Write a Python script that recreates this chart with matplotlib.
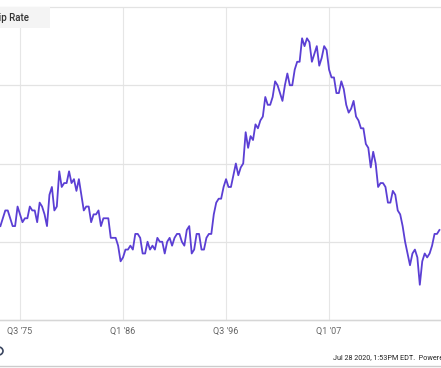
import numpy as np
import pandas as pd
import matplotlib
matplotlib.use('Agg')
import matplotlib.pyplot as plt
from matplotlib.patches import Rectangle, Circle

plt.rcParams['font.family'] = ['Roboto', 'DejaVu Sans']

# quarterly US homeownership rate, visible part of the chart (1973Q3 .. 2018Q2)
first_quarter = '1973Q3'
rate = [64.4, 64.6,
        64.8, 64.8, 64.6, 64.4,
        64.4, 64.9, 64.7, 64.5,
        64.6, 64.6, 64.9, 64.8,
        64.8, 64.5, 65.0, 64.9,
        64.7, 64.4, 65.2, 65.4,
        64.8, 64.9, 65.8, 65.4,
        65.5, 65.5, 65.8, 65.5,
        65.6, 65.3, 65.6, 65.2,
        64.8, 64.9, 64.9, 64.5,
        64.7, 64.7, 64.8, 64.4,
        64.6, 64.6, 64.6, 64.1,
        64.1, 64.1, 63.9, 63.5,
        63.6, 63.8, 63.8, 63.9,
        63.8, 64.2, 64.2, 64.1,
        63.7, 63.7, 64.0, 63.8,
        63.9, 63.8, 64.1, 64.0,
        64.0, 63.7, 64.0, 64.1,
        63.9, 64.1, 64.2, 64.2,
        64.0, 63.9, 64.3, 64.4,
        63.7, 63.8, 64.2, 64.2,
        63.8, 63.8, 64.1, 64.2,
        64.2, 64.7, 65.0, 65.1,
        65.1, 65.4, 65.6, 65.4,
        65.4, 65.7, 66.0, 65.7,
        65.9, 66.0, 66.8, 66.4,
        66.7, 66.6, 67.0, 66.9,
        67.1, 67.2, 67.7, 67.5,
        67.5, 67.7, 68.1, 68.0,
        67.8, 67.6, 68.0, 68.3,
        68.0, 68.0, 68.4, 68.6,
        68.6, 69.2, 69.0, 69.2,
        69.1, 68.6, 68.8, 69.0,
        68.5, 68.7, 69.0, 68.9,
        68.4, 68.2, 68.2, 67.8,
        67.8, 68.1, 67.9, 67.5,
        67.3, 67.4, 67.6, 67.2,
        67.1, 66.9, 66.9, 66.5,
        66.4, 65.9, 66.3, 66.0,
        65.4, 65.5, 65.5, 65.4,
        65.0, 65.0, 65.3, 65.2,
        64.8, 64.7, 64.4, 64.0,
        63.7, 63.4, 63.7, 63.8,
        63.6, 62.9, 63.5, 63.7,
        63.6, 63.7, 63.9, 64.2,
        64.2, 64.3]

tick_pos = [1975.5, 1986.0, 1996.5, 2007.0]
tick_labels = ["Q3 '75", "Q1 '86", "Q3 '96", "Q1 '07"]
y_grid = [62, 64, 66, 68, 70]

quarters = pd.period_range(first_quarter, periods=len(rate), freq='Q')
x = quarters.year + (quarters.quarter - 1) / 4.0

W, H = 441, 368
fig = plt.figure(figsize=(W / 100, H / 100), dpi=100)
fig.patch.set_facecolor('white')

# plot area: top at y=7px, bottom at y=320px
ax = fig.add_axes([0, (H - 320) / H, 1, (320 - 7) / H])
ax.set_xlim(1973.46, 2018.41)
ax.set_ylim(62, 70)
for s in ax.spines.values():
    s.set_visible(False)

for v in tick_pos:
    ax.axvline(v, color='#e6e6e6', lw=0.8, zorder=0)
for v in y_grid:
    ax.axhline(v, color='#e3e3e3', lw=0.9, zorder=0, clip_on=False)
ax.axhline(62, color='#d6d6d6', lw=1.0, zorder=1, clip_on=False)

ax.plot(x, rate, color='#5b3fd4', lw=1.3, zorder=3)

ax.set_xticks(tick_pos)
ax.set_xticklabels(tick_labels, fontsize=6.5, color='#666666')
ax.tick_params(axis='x', length=0, pad=5)
ax.set_yticks([])

# series label box, cut off at the left edge
fig.patches.append(Rectangle((0, 1 - 28 / H), 50 / W, 21 / H, transform=fig.transFigure,
                             facecolor='#f4f4f4', edgecolor='none', zorder=2))
fig.text(29 / W, 1 - 18 / H, 'US Homeownership Rate', ha='right', va='center',
         fontsize=7, color='#333333', fontweight='medium')

# footer
fig.text(333 / W, 1 - 358 / H, 'Jul 28 2020, 1:53PM EDT.  Powered by YCharts',
         ha='left', va='center', fontsize=5.2, color='#222222')
fig.patches.append(Circle((-2 / W, 1 - 351 / H), 5 / W, transform=fig.transFigure,
                          facecolor='none', edgecolor='#3a4660', lw=1.2))
fig.lines.append(plt.Line2D([0, 1], [1 - 366 / H, 1 - 366 / H], transform=fig.transFigure,
                            color='#cccccc', lw=1.0))

fig.savefig('out.png', dpi=100, facecolor='white')
